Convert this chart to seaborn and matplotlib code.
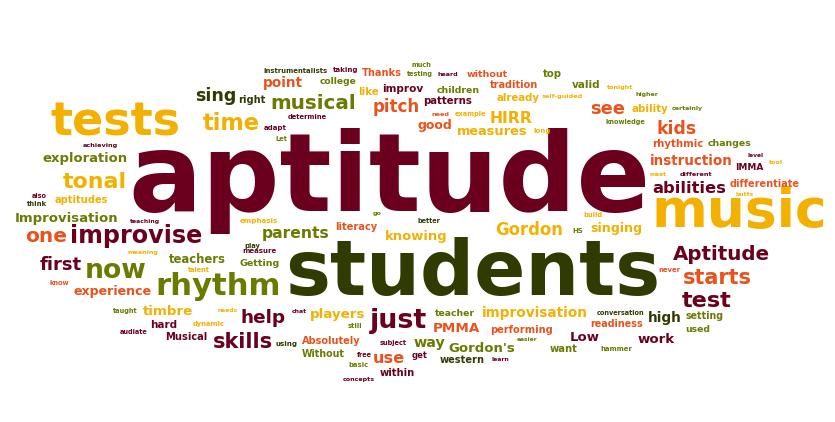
import matplotlib
matplotlib.use('agg')
import matplotlib.pyplot as plt
import seaborn as sns

# --- data: words of the cloud and their colour group ---
words = [
    'aptitude', 'students', 'music', 'tests', 'Aptitude', 'rhythm', 'improvise', 'now',
    'musical', 'pitch', 'time', 'tonal', 'sing', 'kids', 'see', 'starts',
    'test', 'just', 'one', 'first', 'help', 'skills', 'exploration', 'Improvisation',
    'abilities', 'instruction', 'parents', 'teachers', 'Gordon', 'knowing', 'singing', 'timbre',
    'experience', 'players', 'improvisation', 'PMMA', "Gordon's", 'high', 'Low', 'work',
    'use', 'way', 'rhythmic', 'changes', 'ability', 'HIRR', 'measures', 'good',
    'differentiate', 'point', 'tradition', 'without', 'Thanks', 'improv', 'patterns', 'children',
    'already', 'college', 'valid', 'top', 'right', 'literacy', 'Getting', 'aptitudes',
    'hard', 'Musical', 'Absolutely', 'Without', 'western', 'within', 'get', 'readiness',
    'performing', 'setting', 'used', 'want', 'teacher', 'IMMA', 'instrumentalists', 'taking',
    'much', 'testing', 'heard', 'like', 'self-guided', 'tonight', 'higher', 'certainly',
    'knowledge', 'need', 'example', 'long', 'determine', 'adapt', 'Let', 'achieving',
    'also', 'think', 'teaching', 'emphasis', 'play', 'measure', 'meaning', 'talent',
    'go', 'better', 'meet', 'different', 'butts', 'build', 'HS', 'never',
    'level', 'tool', 'know', 'taught', 'needs', 'dynamic', 'audiate', 'chat',
    'still', 'using', 'subject', 'easier', 'conversation', 'hammer', 'free', 'learn',
    'basic', 'concepts',
]
groups = [
    'M', 'D', 'Y', 'Y', 'M', 'O', 'M', 'O',
    'O', 'R', 'Y', 'Y', 'D', 'R', 'R', 'R',
    'M', 'M', 'R', 'M', 'M', 'M', 'O', 'O',
    'M', 'R', 'O', 'O', 'Y', 'Y', 'Y', 'Y',
    'R', 'Y', 'Y', 'R', 'O', 'D', 'M', 'M',
    'R', 'O', 'R', 'O', 'Y', 'Y', 'Y', 'R',
    'R', 'R', 'R', 'R', 'R', 'M', 'M', 'O',
    'Y', 'O', 'O', 'O', 'D', 'R', 'O', 'Y',
    'M', 'M', 'R', 'O', 'D', 'M', 'M', 'R',
    'R', 'O', 'O', 'O', 'O', 'M', 'D', 'M',
    'O', 'O', 'M', 'Y', 'Y', 'Y', 'O', 'O',
    'O', 'R', 'Y', 'Y', 'M', 'M', 'O', 'M',
    'M', 'D', 'M', 'Y', 'D', 'M', 'Y', 'Y',
    'O', 'D', 'Y', 'M', 'Y', 'Y', 'O', 'R',
    'M', 'Y', 'R', 'O', 'Y', 'Y', 'M', 'M',
    'O', 'D', 'M', 'O', 'D', 'O', 'M', 'M',
    'O', 'M',
]

# --- layout (pixels): left edge, right edge, baseline ---
x_left = [
    128, 285, 652, 50, 673, 155, 70, 85,
    270, 373, 203, 63, 195, 657, 590, 683,
    682, 370, 25, 40, 240, 213, 42, 15,
    652, 650, 262, 169, 495, 385, 590, 143,
    73, 310, 482, 433, 448, 648, 570, 638,
    373, 413, 652, 708, 632, 490, 457, 418,
    730, 263, 490, 467, 362, 382, 423, 437,
    497, 320, 572, 543, 238, 335, 240, 55,
    150, 165, 302, 302, 440, 380, 412, 590,
    490, 685, 685, 550, 435, 735, 263, 333,
    412, 407, 437, 358, 542, 607, 635, 672,
    605, 432, 455, 533, 288, 264, 275, 83,
    32, 27, 130, 240, 244, 242, 127, 188,
    373, 417, 650, 680, 735, 583, 572, 658,
    747, 769, 50, 113, 217, 193, 120, 292,
    348, 275, 380, 517, 597, 600, 357, 492,
    348, 343,
]
x_right = [
    650, 660, 827, 180, 770, 280, 202, 147,
    355, 420, 260, 127, 236, 697, 625, 752,
    732, 427, 67, 82, 285, 272, 127, 118,
    725, 733, 330, 226, 563, 447, 642, 193,
    152, 365, 587, 480, 515, 682, 600, 675,
    405, 445, 703, 752, 668, 533, 528, 453,
    800, 303, 538, 508, 402, 423, 472, 480,
    540, 357, 600, 562, 265, 377, 280, 108,
    177, 207, 360, 345, 485, 415, 428, 643,
    552, 723, 710, 578, 475, 763, 327, 358,
    432, 433, 458, 378, 583, 633, 658, 703,
    645, 450, 487, 550, 327, 287, 287, 118,
    47, 47, 160, 278, 260, 276, 158, 210,
    382, 440, 667, 712, 753, 602, 583, 680,
    763, 783, 70, 138, 237, 225, 148, 307,
    362, 297, 407, 538, 645, 632, 372, 510,
    368, 375,
]
baseline = [
    211, 295, 227, 135, 260, 295, 243, 278,
    109, 112, 130, 188, 101, 134, 114, 284,
    307, 328, 242, 270, 323, 348, 162, 222,
    193, 165, 238, 263, 235, 240, 232, 315,
    295, 318, 317, 332, 352, 322, 341, 343,
    363, 347, 147, 146, 112, 123, 135, 129,
    187, 87, 88, 77, 76, 92, 104, 93,
    101, 84, 88, 77, 103, 230, 266, 203,
    328, 340, 344, 357, 363, 376, 358, 327,
    333, 319, 332, 352, 316, 170, 73, 72,
    67, 76, 76, 95, 98, 89, 96, 110,
    124, 116, 116, 133, 119, 130, 141, 147,
    198, 206, 223, 223, 248, 253, 254, 272,
    215, 223, 176, 176, 196, 217, 233, 272,
    157, 164, 285, 313, 312, 326, 334, 313,
    328, 346, 345, 341, 315, 351, 357, 361,
    367, 381,
]

palette = dict(zip(['M', 'D', 'O', 'Y', 'R'],
                   sns.color_palette(['#6a001e', '#2f3b00', '#6a7b00', '#f4b000', '#e9521c'])))

sns.set_theme(style="white")
plt.rcParams['font.family'] = ['DejaVu Sans']

fig = plt.figure(figsize=(8.35, 4.22), dpi=100)
ax = fig.add_axes([0, 0, 1, 1])
ax.set_xlim(0, 835)
ax.set_ylim(422, 0)
ax.axis('off')

renderer = fig.canvas.get_renderer()
for w, g, x0, x1, yb in zip(words, groups, x_left, x_right, baseline):
    t = ax.text(x0, yb, w, color=palette[g], fontsize=10, fontweight='bold',
                ha='left', va='baseline')
    width = t.get_window_extent(renderer).width
    # scale the font so the word fills its slot
    t.set_fontsize(10 * (x1 - x0) / width)

plt.savefig('out.png', dpi=100, facecolor='white')
